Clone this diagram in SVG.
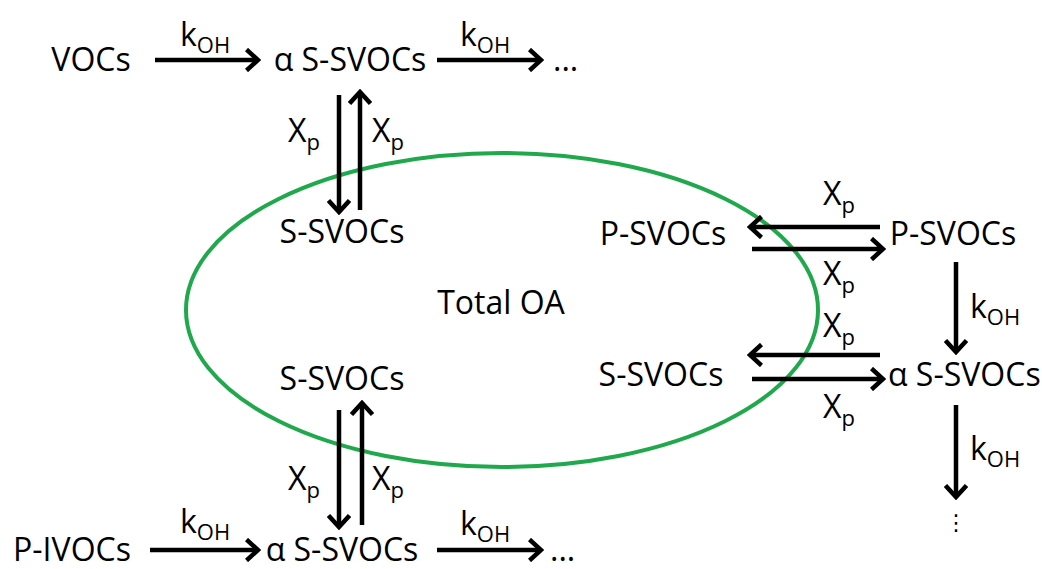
<svg xmlns="http://www.w3.org/2000/svg" width="1042" height="569" viewBox="0 0 1042 569">
<style>
text{font-family:"Open Sans","Noto Sans",sans-serif;fill:#000;font-size:32px}
.n{text-anchor:middle}
.sub{font-size:22px}
.c line{stroke:#000;stroke-width:4.5;marker-end:url(#ah)}
</style>
<defs>
<marker id="ah" viewBox="0 0 16 24" refX="13" refY="12" markerWidth="16" markerHeight="24" markerUnits="userSpaceOnUse" orient="auto">
<path d="M1.5,1.5 L13,12 L1.5,22.5" fill="none" stroke="#000" stroke-width="4.5"/>
</marker>
</defs>
<rect width="1042" height="569" fill="#fff"/>
<ellipse id="totalOA" cx="502" cy="310" rx="316" ry="157" fill="none" stroke="#20a84c" stroke-width="4"/>
<g class="c" id="connectors">
<line x1="155" y1="60" x2="258" y2="60"/>
<line x1="437" y1="60" x2="541" y2="60"/>
<line x1="339" y1="95" x2="339" y2="212"/>
<line x1="360" y1="210" x2="360" y2="92"/>
<line x1="880" y1="227" x2="750" y2="227"/>
<line x1="752" y1="249" x2="883" y2="249"/>
<line x1="956" y1="262" x2="956" y2="352"/>
<line x1="880" y1="355" x2="750" y2="355"/>
<line x1="752" y1="379" x2="883" y2="379"/>
<line x1="956" y1="405" x2="956" y2="497"/>
<line x1="339" y1="410" x2="339" y2="527"/>
<line x1="362" y1="525" x2="362" y2="403"/>
<line x1="150" y1="550" x2="258" y2="550"/>
<line x1="437" y1="550" x2="541" y2="550"/>
</g>
<g id="labels">
<text x="180" y="46">k<tspan class="sub" dy="7">OH</tspan></text>
<text x="460" y="46">k<tspan class="sub" dy="7">OH</tspan></text>
<text x="288" y="142">X<tspan class="sub" dy="8">p</tspan></text>
<text x="372" y="142">X<tspan class="sub" dy="8">p</tspan></text>
<text x="823" y="205">X<tspan class="sub" dy="8">p</tspan></text>
<text x="823" y="285">X<tspan class="sub" dy="8">p</tspan></text>
<text x="970" y="318">k<tspan class="sub" dy="7">OH</tspan></text>
<text x="823" y="337">X<tspan class="sub" dy="8">p</tspan></text>
<text x="823" y="418">X<tspan class="sub" dy="8">p</tspan></text>
<text x="970" y="460">k<tspan class="sub" dy="7">OH</tspan></text>
<text x="288" y="490">X<tspan class="sub" dy="8">p</tspan></text>
<text x="372" y="490">X<tspan class="sub" dy="8">p</tspan></text>
<text x="180" y="533">k<tspan class="sub" dy="7">OH</tspan></text>
<text x="460" y="535">k<tspan class="sub" dy="7">OH</tspan></text>
</g>
<g id="n-vocs"><text class="n" x="91" y="71">VOCs</text></g>
<g id="n-aS-top"><text class="n" x="350" y="71">α S-SVOCs</text></g>
<g id="n-dots-top"><text x="553" y="71">...</text></g>
<g id="n-S-top"><text class="n" x="342" y="243">S-SVOCs</text></g>
<g id="n-total"><text class="n" x="501" y="314">Total OA</text></g>
<g id="n-P-in"><text class="n" x="663" y="245">P-SVOCs</text></g>
<g id="n-P-out"><text class="n" x="953" y="245">P-SVOCs</text></g>
<g id="n-S-in"><text class="n" x="661" y="386">S-SVOCs</text></g>
<g id="n-aS-right"><text x="888" y="386">α S-SVOCs</text></g>
<g id="n-vdots"><text class="n" x="956" y="530" style="font-family:'DejaVu Sans',sans-serif;font-size:22px">⋮</text></g>
<g id="n-S-bottom"><text class="n" x="342" y="390">S-SVOCs</text></g>
<g id="n-pivocs"><text class="n" x="72" y="561">P-IVOCs</text></g>
<g id="n-aS-bottom"><text class="n" x="342" y="561">α S-SVOCs</text></g>
<g id="n-dots-bottom"><text x="550" y="561">...</text></g>
</svg>
